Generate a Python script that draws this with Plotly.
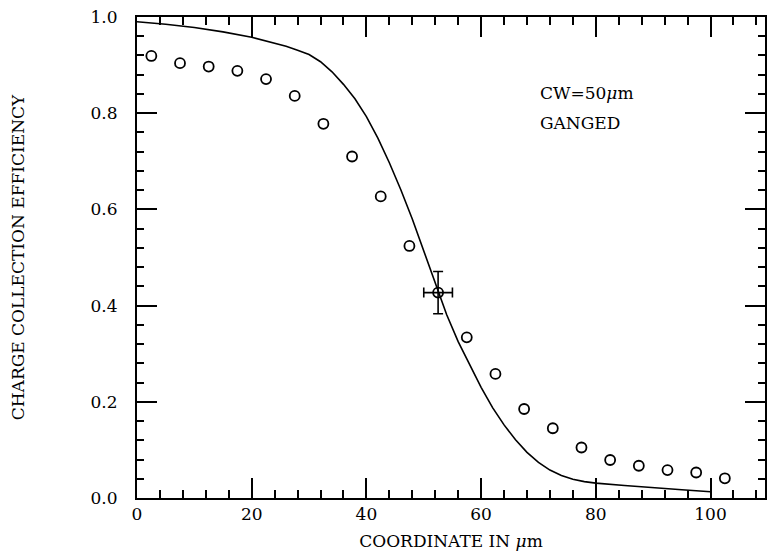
import plotly.graph_objects as go

# measured points (open circles)
pos_x = [2.5, 7.5, 12.5, 17.5, 22.5, 27.5, 32.5, 37.5, 42.5, 47.5, 52.5,
         57.5, 62.5, 67.5, 72.5, 77.5, 82.5, 87.5, 92.5, 97.5, 102.5]
eff_y = [0.919, 0.904, 0.897, 0.888, 0.871, 0.836, 0.778, 0.710, 0.627, 0.524, 0.427,
         0.334, 0.258, 0.185, 0.145, 0.105, 0.079, 0.067, 0.058, 0.053, 0.041]

# representative error bar point
err_x = [52.5]
err_y = [0.427]
err_dy = [0.044]
err_dx = [2.5]

# simulation curve
curve_x = [0, 5, 10, 15, 20, 22, 24, 26, 28, 30, 32, 34, 36, 38, 40, 42, 44, 46,
           48, 50, 52, 54, 56, 58, 60, 62, 64, 66, 68, 70, 72, 74, 76, 78, 80,
           85, 90, 95, 100]
curve_y = [0.990, 0.985, 0.978, 0.969, 0.958, 0.952, 0.946, 0.939, 0.931, 0.922,
           0.907, 0.886, 0.860, 0.830, 0.793, 0.748, 0.697, 0.641, 0.580, 0.514,
           0.446, 0.381, 0.325, 0.277, 0.230, 0.188, 0.152, 0.121, 0.095, 0.074,
           0.058, 0.047, 0.039, 0.034, 0.031, 0.026, 0.021, 0.017, 0.013]

X_RANGE = [0, 109.5]
Y_RANGE = [0, 1.0]

FONT = "DejaVu Serif"

fig = go.Figure()
fig.add_trace(go.Scatter(x=curve_x, y=curve_y, mode="lines",
                         line=dict(color="black", width=1.6),
                         showlegend=False, hoverinfo="skip"))
fig.add_trace(go.Scatter(x=pos_x, y=eff_y, mode="markers",
                         marker=dict(symbol="circle-open", size=10, color="black",
                                     line=dict(width=1.8, color="black")),
                         showlegend=False))
fig.add_trace(go.Scatter(x=err_x, y=err_y, mode="markers",
                         marker=dict(size=1, color="rgba(0,0,0,0)"),
                         error_y=dict(type="data", array=err_dy, visible=True,
                                      color="black", thickness=1.6, width=5),
                         error_x=dict(type="data", array=err_dx, visible=True,
                                      color="black", thickness=1.6, width=5),
                         showlegend=False))

fig.add_annotation(x=70.0, y=0.842, xref="x", yref="y", text="CW=50<i>μ</i>m",
                   showarrow=False, xanchor="left", yanchor="middle",
                   font=dict(family=FONT, size=17, color="black"))
fig.add_annotation(x=70.0, y=0.780, xref="x", yref="y", text="GANGED",
                   showarrow=False, xanchor="left", yanchor="middle",
                   font=dict(family=FONT, size=17, color="black"))

axis_common = dict(showgrid=False, zeroline=False, showline=True, linecolor="black",
                   linewidth=2, ticks="inside", tickcolor="black", tickwidth=2,
                   ticklen=20, mirror="allticks", tickmode="linear", tick0=0)

fig.update_xaxes(range=X_RANGE, dtick=20,
                 tickfont=dict(family=FONT, size=17, color="black"),
                 minor=dict(dtick=4, tick0=0, ticks="inside", ticklen=8,
                            tickcolor="black", tickwidth=2),
                 title=dict(text="COORDINATE IN <i>μ</i>m",
                            font=dict(family=FONT, size=17, color="black"),
                            standoff=12),
                 **axis_common)
fig.update_yaxes(range=Y_RANGE, dtick=0.2, tickformat=".1f",
                 tickfont=dict(family=FONT, size=17, color="black"),
                 ticklabelstandoff=14,
                 minor=dict(dtick=0.04, tick0=0, ticks="inside", ticklen=7,
                            tickcolor="black", tickwidth=2),
                 title=dict(text="CHARGE COLLECTION EFFICIENCY",
                            font=dict(family=FONT, size=17, color="black"),
                            standoff=62),
                 **axis_common)

fig.update_layout(width=767, height=559,
                  margin=dict(l=137, r=0, t=17, b=61),
                  paper_bgcolor="white", plot_bgcolor="white",
                  showlegend=False)

fig.write_html("out.html")
